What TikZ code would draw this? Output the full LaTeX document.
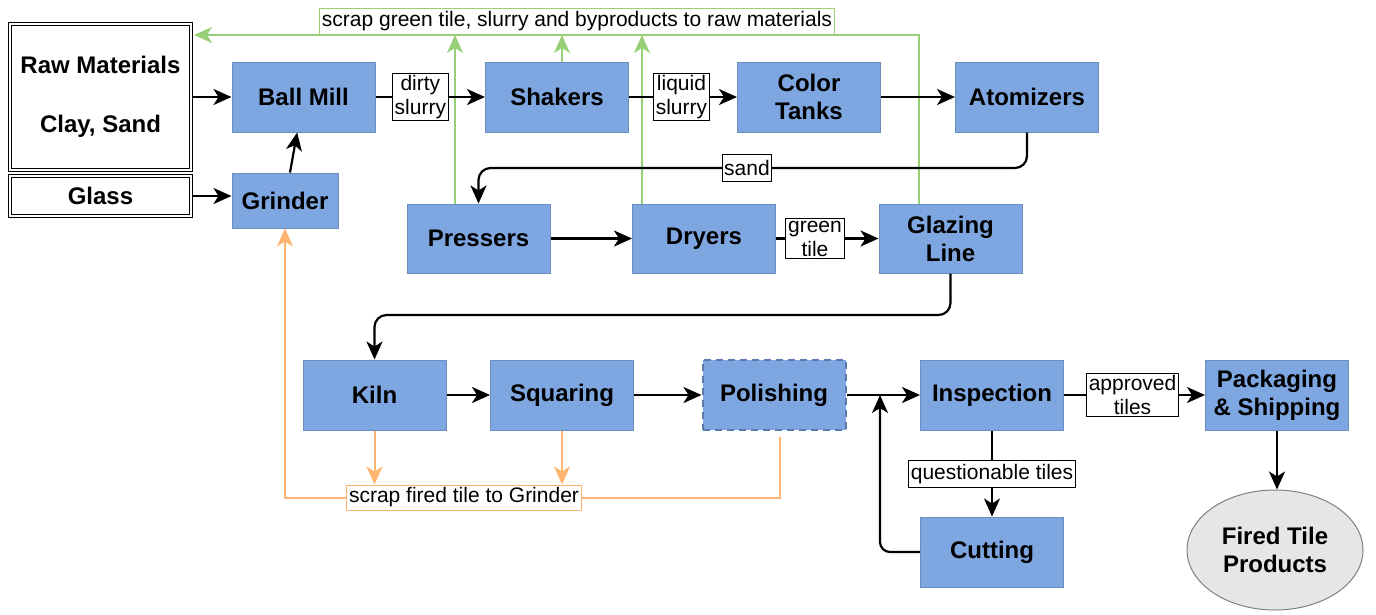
\documentclass[tikz,border=0pt]{standalone}
\usepackage{fontspec}
\setmainfont{Liberation Sans}
\usetikzlibrary{arrows.meta,shapes.geometric,calc}
\definecolor{boxblue}{HTML}{7EA6E0}
\definecolor{boxedge}{HTML}{6C8EBF}
\definecolor{dashedge}{HTML}{5A7AAA}
\definecolor{gline}{HTML}{97D077}
\definecolor{oline}{HTML}{FFB570}
\definecolor{ellfill}{HTML}{E6E6E6}
\definecolor{elledge}{HTML}{808080}
\tikzset{
  pbox/.style={rectangle, draw=boxedge, fill=boxblue, line width=1pt,
    minimum width=143pt, minimum height=70pt, inner sep=2pt, align=center,
    font=\bfseries\fontsize{24}{28}\selectfont},
  dblbox/.style={rectangle, draw=black, fill=white, double, double distance=1.8pt,
    line width=1pt, minimum width=181pt, align=center,
    font=\bfseries\fontsize{24}{59}\selectfont},
  lbl/.style={rectangle, draw=black, fill=white, line width=1pt, inner xsep=2.5pt,
    inner ysep=2pt, minimum height=27pt, align=center,
    font=\fontsize{21}{24}\selectfont},
  glbl/.style={lbl, draw=gline, fill=white},
  olbl/.style={lbl, draw=oline, fill=white, minimum height=25pt},
  tip/.style={-{Stealth[length=18pt,width=16pt,inset=5pt]}},
  flow/.style={draw=black, line width=2.2pt, tip},
  gflow/.style={draw=gline, line width=2pt, tip},
  oflow/.style={draw=oline, line width=2pt, tip},
}
\begin{document}
\begin{tikzpicture}[x=1pt,y=-1pt]
\useasboundingbox (0,0) rectangle (1376,614);

% input boxes
\node[dblbox, minimum height=146pt] (raw) at (100.5,97) {Raw Materials\\Clay, Sand};
\node[dblbox, minimum height=40pt] (glass) at (100.5,196) {Glass};

% process boxes
\node[pbox] (bm) at (303.5,97) {Ball Mill};
\node[pbox, minimum width=106pt, minimum height=55pt] (gr) at (285,200.5) {Grinder};
\node[pbox] (sh) at (557,97) {Shakers};
\node[pbox] (ctk) at (809,97) {Color\\Tanks};
\node[pbox] (atom) at (1027,97) {Atomizers};
\node[pbox, minimum height=69pt] (pr) at (478.5,238.5) {Pressers};
\node[pbox, minimum height=69pt] (dr) at (704,238.5) {Dryers};
\node[pbox, minimum height=69pt] (gz) at (950.5,238.5) {Glazing\\Line};
\node[pbox] (kl) at (374.5,395) {Kiln};
\node[pbox] (sq) at (562,395) {Squaring};
\node[pbox, draw=dashedge, line width=2pt, dash pattern=on 7pt off 5pt] (po) at (774,395) {Polishing};
\node[pbox] (insp) at (992,395) {Inspection};
\node[pbox] (pk) at (1277,395) {Packaging\\\& Shipping};
\node[pbox] (cut) at (992,552) {Cutting};
\node[ellipse, draw=elledge, fill=ellfill, line width=1pt, minimum width=176pt,
      minimum height=120pt, inner sep=0pt, align=center,
      font=\bfseries\fontsize{24}{28}\selectfont] (ft) at (1275,550) {Fired Tile\\Products};

% green recycle lines
\coordinate (rawg) at (194,35);
\coordinate (gzg) at ([xshift=-32pt]gz.north);
\coordinate (prg) at ([xshift=-23.5pt]pr.north);
\coordinate (shg) at ([xshift=5pt]sh.north);
\coordinate (drg) at ([xshift=-62pt]dr.north);
\draw[gflow] (gzg) |- (rawg);
\draw[gflow] (prg) -- (prg |- rawg);
\draw[gflow] (shg) -- (shg |- rawg);
\draw[gflow] (drg) -- (drg |- rawg);
\node[glbl, anchor=south, minimum height=26pt] (lgreen) at (577,35)
  {scrap green tile, slurry and byproducts to raw materials};

% orange scrap lines
\coordinate (ps) at (780,437);
\coordinate (oy) at (464,497.5);
\draw[oflow] (ps) |- (gr.south |- oy) -- (gr.south);
\node[olbl] (lorange) at (464,497.5) {scrap fired tile to Grinder};
\draw[oflow] (kl.south) -- (kl.south |- lorange.north);
\draw[oflow] (sq.south) -- (sq.south |- lorange.north);

% main flow
\draw[flow] (raw) -- (bm);
\draw[flow] (glass.east) -- (glass.east -| gr.west);
\draw[flow] (gr) -- (bm);
\draw[flow] (bm) -- node[lbl, pos=0.41] (ldirty) {dirty\\slurry} (sh);
\draw[flow] (sh) -- node[lbl, pos=0.486] (lliquid) {liquid\\slurry} (ctk);
\draw[flow] (ctk) -- (atom);
\coordinate (sandy) at (0,168);
\draw[flow, rounded corners=12pt] (atom.south) |- (pr.north |- sandy) -- (pr.north);
\node[lbl, inner xsep=1.5pt] (lsand) at (747,168) {sand};
\draw[flow] (pr) -- (dr);
\draw[flow] (dr) -- node[lbl, pos=0.38] (lgreentile) {green\\tile} (gz);
\coordinate (kily) at (0,315);
\draw[flow, rounded corners=12pt] (gz.south) |- (kl.north |- kily) -- (kl.north);
\draw[flow] (kl) -- (sq);
\draw[flow] (sq) -- (po);
\draw[flow] (po) -- (insp);
\draw[flow] (insp) -- node[lbl, pos=0.486] (lapproved) {approved\\tiles} (pk);
\draw[flow] (insp) -- node[lbl, pos=0.51] (lquest) {questionable tiles} (cut);
\coordinate (join) at (880,395);
\draw[flow, rounded corners=10pt] (cut.west) -| (join);
\draw[flow] (pk.south) -- (pk.south |- ft.north);
\end{tikzpicture}
\end{document}
